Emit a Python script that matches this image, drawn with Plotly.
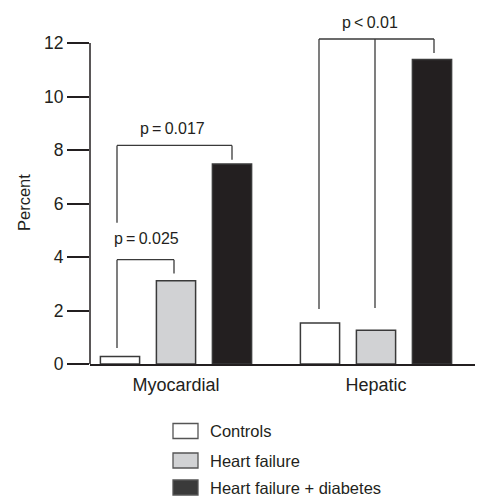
import plotly.graph_objects as go

# ---- data -------------------------------------------------------------
tissues = ["Myocardial", "Hepatic"]
groups = ["Controls", "Heart failure", "Heart failure + diabetes"]
controls = [0.28, 1.53]
heart_failure = [3.11, 1.26]
hf_diabetes = [7.48, 11.38]
y_ticks = [0, 2, 4, 6, 8, 10, 12]

# significance brackets: label, category index, leg offsets (category units),
# leg bottom values, bracket top value, label offset / label value
brackets = [
    dict(text="p\u2009=\u20090.025", cat=0, legs=[-0.295, -0.01], bottoms=[0.6, 3.38],
         top=3.9, label_dx=-0.15, label_y=4.7),
    dict(text="p\u2009=\u20090.017", cat=0, legs=[-0.295, 0.28], bottoms=[5.28, 7.64],
         top=8.17, label_dx=-0.02, label_y=8.8),
    dict(text="p\u2009<\u20090.01", cat=1, legs=[-0.285, -0.005, 0.29], bottoms=[2.06, 2.09, 11.63],
         top=12.15, label_dx=-0.03, label_y=12.78),
]

# ---- styling ----------------------------------------------------------
FONT = "Liberation Sans, Arial, Helvetica, sans-serif"
INK = "#231f20"
EDGE = "#3a3a3a"
fills = ["#ffffff", "#d1d2d4", "#231f20"]
legend_fills = ["#ffffff", "#d1d2d4", "#3a3a3a"]

W, H = 482, 496
ML, MR, MT, MB = 90, 7, 35, 132
YMAX = 12.3

pw, ph = W - ML - MR, H - MT - MB


def px_x(px):
    return (px - ML) / pw


def px_y(py):
    return (H - MB - py) / ph


def val_to_paper(v):
    return v / YMAX


fig = go.Figure()
for name, vals, col in zip(groups, [controls, heart_failure, hf_diabetes], fills):
    fig.add_trace(go.Bar(
        x=list(range(len(tissues))), y=vals, name=name,
        marker=dict(color=col, line=dict(color=EDGE, width=1.5)),
        showlegend=False, hoverinfo="skip",
    ))

shapes = []
annotations = []

# y axis line only spanning 0..12
shapes.append(dict(type="line", xref="paper", yref="y", x0=0, x1=0,
                   y0=0, y1=max(y_ticks), line=dict(color=INK, width=1.5)))

# significance brackets
for b in brackets:
    xs = [b["cat"] + d for d in b["legs"]]
    shapes.append(dict(type="line", xref="x", yref="y", x0=xs[0], x1=xs[-1],
                       y0=b["top"], y1=b["top"], line=dict(color=EDGE, width=1.3)))
    for xv, yb in zip(xs, b["bottoms"]):
        shapes.append(dict(type="line", xref="x", yref="y", x0=xv, x1=xv,
                           y0=yb, y1=b["top"], line=dict(color=EDGE, width=1.3)))
    annotations.append(dict(text=b["text"], x=b["cat"] + b["label_dx"],
                            y=val_to_paper(b["label_y"]),
                            xref="x", yref="paper", xanchor="center", yanchor="middle",
                            showarrow=False,
                            font=dict(family=FONT, size=16, color=INK)))

# y axis title
annotations.append(dict(text="Percent", x=px_x(24), y=px_y(203),
                        xref="paper", yref="paper", xanchor="center", yanchor="middle",
                        textangle=-90, showarrow=False,
                        font=dict(family=FONT, size=16.5, color=INK)))

# legend drawn below the plot
row_centers = [431, 460.5, 487.5]
for name, col, cy in zip(groups, legend_fills, row_centers):
    shapes.append(dict(type="rect", xref="paper", yref="paper",
                       x0=px_x(173), x1=px_x(198), y0=px_y(cy + 7.5), y1=px_y(cy - 7.5),
                       fillcolor=col, line=dict(color="#555555", width=1.3)))
    annotations.append(dict(text=name, x=px_x(208), y=px_y(cy), xref="paper", yref="paper",
                            xanchor="left", yanchor="middle", showarrow=False,
                            font=dict(family=FONT, size=16.5, color=INK)))

fig.update_layout(
    width=W, height=H,
    margin=dict(l=ML, r=MR, t=MT, b=MB),
    paper_bgcolor="white", plot_bgcolor="white",
    barmode="group", bargap=0.16, bargroupgap=0.30,
    shapes=shapes, annotations=annotations,
    font=dict(family=FONT, color=INK),
    xaxis=dict(
        tickmode="array", tickvals=list(range(len(tissues))), ticktext=tissues,
        range=[-0.43, 1.495], showgrid=False, zeroline=False,
        showline=True, linecolor=INK, linewidth=1.5, ticks="",
        ticklabelstandoff=4,
        tickfont=dict(family=FONT, size=18, color=INK),
    ),
    yaxis=dict(
        range=[0, YMAX], tickvals=y_ticks, showgrid=False, zeroline=False,
        showline=False, ticks="outside", ticklen=22, tickwidth=1.5, tickcolor=INK,
        tickfont=dict(family=FONT, size=17.5, color=INK),
    ),
)

fig.write_html("out.html")
